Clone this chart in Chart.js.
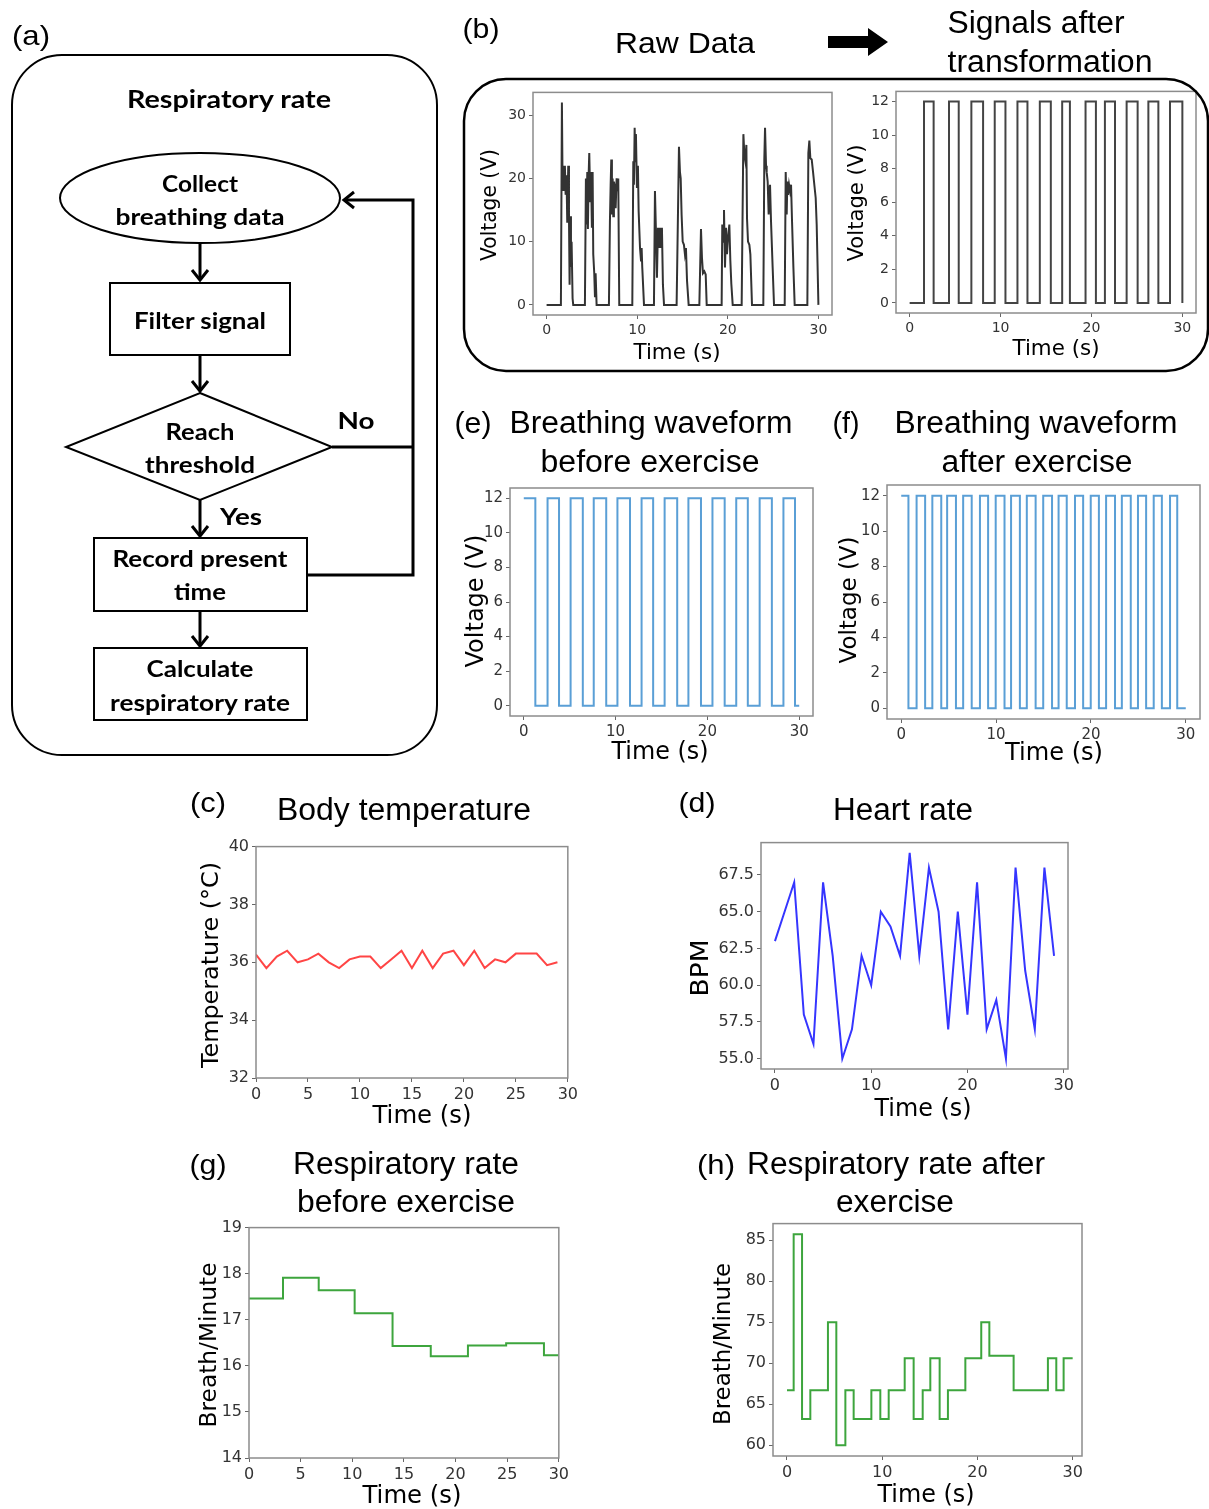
<!DOCTYPE html>
<html>
<head>
<meta charset="utf-8">
<script src="https://cdn.jsdelivr.net/npm/chart.js@4.4.0/dist/chart.umd.min.js"></script>
<style>
  body { margin: 0; background: #fff; }
  #page { position: relative; width: 1209px; height: 1509px; overflow: hidden; background: #fff; }
  #page canvas { position: absolute; }
  #overlay { position: absolute; left: 0; top: 0; pointer-events: none; }
</style>
</head>
<body>
<div id="page">
  <svg id="overlay" width="1209" height="1509" xmlns="http://www.w3.org/2000/svg">
    <!-- (a) flowchart -->
    <rect x="12" y="55" width="425" height="700" rx="50" fill="none" stroke="#000" stroke-width="2"/>
    <ellipse cx="200" cy="198" rx="140" ry="45" fill="none" stroke="#000" stroke-width="2"/>
    <rect x="110" y="283" width="180" height="72" fill="none" stroke="#000" stroke-width="2"/>
    <polygon points="200,393 332,447 200,500 66,447" fill="none" stroke="#000" stroke-width="2"/>
    <rect x="94" y="538" width="213" height="73" fill="none" stroke="#000" stroke-width="2"/>
    <rect x="94" y="648" width="213" height="72" fill="none" stroke="#000" stroke-width="2"/>
    <g stroke="#000" stroke-width="3" fill="none">
      <line x1="200" y1="243" x2="200" y2="280"/><polyline points="192,270 200,280 208,270"/>
      <line x1="200" y1="355" x2="200" y2="391"/><polyline points="192,381 200,391 208,381"/>
      <line x1="200" y1="500" x2="200" y2="536"/><polyline points="192,526 200,536 208,526"/>
      <line x1="200" y1="611" x2="200" y2="646"/><polyline points="192,636 200,646 208,636"/>
      <polyline points="332,447 413,447"/>
      <polyline points="307,575 413,575 413,200 344,200"/>
      <polyline points="354,192 344,200 354,208"/>
    </g>
    <!-- (b) frame and arrow -->
    <rect x="464" y="79" width="744" height="292" rx="42" fill="none" stroke="#000" stroke-width="2.5"/>
    <polygon points="828,36 868,36 868,28 888,42 868,56 868,48 828,48" fill="#000"/>
    <g id="labels"></g>
  </svg>
</div>
<script>
// ---- (b) raw breathing data, one line per breath ----
const rawTime = [0,
  1.58, 1.69, 1.77, 1.84, 1.91, 2.02, 2.10, 2.20, 2.28, 2.39, 2.47, 2.54, 2.61, 2.69, 2.76, 2.87, 2.94,
  4.23, 4.34, 4.42, 4.49, 4.56, 4.64, 4.71, 4.82, 4.90, 5.00, 5.08, 5.15, 5.26, 5.34, 5.41, 5.52,
  6.88, 6.99, 7.07, 7.14, 7.21, 7.29, 7.36, 7.43, 7.55, 7.62, 7.73, 7.84, 7.91, 8.02,
  9.46, 9.57, 9.64, 9.72, 9.79, 9.86, 9.97, 10.08, 10.16, 10.31, 10.42, 10.49, 10.56, 10.75,
  11.85, 11.96, 12.07, 12.18, 12.29, 12.40, 12.51, 12.62, 12.73, 12.84, 12.96,
  14.35, 14.61, 14.72, 14.80, 14.90, 15.02, 15.16, 15.27, 15.38, 15.50, 15.68,
  16.86, 17.04, 17.15, 17.26, 17.41, 17.56, 17.67,
  19.32, 19.39, 19.50, 19.58, 19.69, 19.80, 19.91, 20.02, 20.17, 20.28, 20.39, 20.54,
  21.53, 21.72, 21.83, 21.94, 22.05, 22.12, 22.23, 22.38, 22.49, 22.67,
  23.92, 24.03, 24.11, 24.22, 24.29, 24.40, 24.51, 24.59, 24.66, 24.77, 24.95, 25.10,
  26.28, 26.39, 26.50, 26.57, 26.65, 26.76, 26.87, 26.98, 27.09, 27.24, 27.38,
  28.78, 28.89, 29.00, 29.11, 29.26, 29.41, 29.55, 29.70, 29.81, 30.00];
const rawVolt = [0,
  0, 32, 18, 22, 18, 22, 17.4, 20.5, 13, 22, 14, 3.2, 14, 6, 10, 1, 0,
  0, 20, 12.7, 21, 12, 20.5, 24, 16.4, 21, 12.2, 21, 8, 5, 1.2, 5, 0,
  0, 13.2, 19, 23, 14.3, 20, 14, 19.5, 18.5, 15.3, 20, 18, 20, 0,
  0, 22.7, 19, 28, 22.7, 27, 18.5, 22, 14.8, 9, 7, 9, 5.9, 0,
  0, 18, 11.6, 4.3, 12.2, 9, 12.2, 9, 12.2, 3.2, 0,
  0, 25, 21, 20, 14.3, 10, 9.5, 8, 9, 3.8, 0,
  0, 12, 7.4, 5, 5.3, 4.8, 0,
  0, 12.7, 10, 15, 5.9, 12.2, 8, 10.6, 12.7, 7, 3.3, 0,
  0, 27, 23.7, 22.7, 25.3, 13.7, 10, 9.5, 8, 0,
  0, 23, 28, 22, 21, 19.5, 14.3, 18, 19, 13.2, 5.9, 0,
  0, 21, 14.3, 19.5, 17.4, 19, 18, 19, 13.2, 5.9, 0,
  0, 24, 26, 23.2, 23, 21, 19, 16.9, 12.7, 0];

// ---- square waves: times where the level toggles between 0 and 12 V ----
const transEdges = [1.58, 2.64, 4.33, 5.40, 6.79, 8.08, 9.36, 10.54, 11.86, 12.96, 14.32, 15.53,
  16.78, 17.63, 19.35, 20.49, 21.48, 22.59, 23.87, 25.08, 26.26, 27.36, 28.64, 30.0];
const beforeEdges = [1.26, 2.59, 3.84, 5.10, 6.43, 7.62, 8.98, 10.20, 11.57, 12.83, 14.09, 15.34,
  16.71, 17.93, 19.30, 20.55, 21.88, 23.14, 24.40, 25.69, 27.02, 28.28, 29.54];
const afterEdges = [0.76, 1.62, 2.52, 3.28, 4.22, 4.84, 5.77, 6.53, 7.43, 8.30, 9.16, 9.96, 10.89,
  11.58, 12.51, 13.24, 14.17, 14.97, 15.90, 16.59, 17.45, 18.32, 19.18, 19.98, 20.84, 21.60, 22.54,
  23.26, 24.20, 24.96, 25.82, 26.62, 27.48, 28.34, 29.10];
const highLevel = 12;

// ---- (c) body temperature, (d) heart rate ----
const seconds = [0, 1, 2, 3, 4, 5, 6, 7, 8, 9, 10, 11, 12, 13, 14, 15, 16, 17, 18, 19,
  20, 21, 22, 23, 24, 25, 26, 27, 28, 29];
const temperature = [36.27, 35.8, 36.2, 36.4, 36.0, 36.1, 36.3, 36.0, 35.8, 36.1, 36.2, 36.2, 35.8, 36.1, 36.4,
  35.8, 36.4, 35.8, 36.3, 36.4, 35.9, 36.4, 35.8, 36.1, 36.0, 36.3, 36.3, 36.3, 35.9, 36.0];
const heartRate = [63, 65, 67, 58, 56, 67, 62, 55, 57, 62, 60, 65, 64, 62, 69, 62, 68, 65, 57, 65,
  58, 67, 57, 59, 55, 68, 61, 57, 68, 62];

// ---- (g)/(h) respiratory rate steps: start time and value of each step ----
const rrBeforeTime = [0, 3.29, 6.75, 10.23, 13.9, 17.6, 21.2, 24.9, 28.56];
const rrBeforeRate = [17.46, 17.91, 17.64, 17.14, 16.43, 16.21, 16.44, 16.49, 16.23];
const rrAfterTime = [0, 0.7, 1.58, 2.45, 4.3, 5.18, 6.13, 7.0, 8.86, 9.8, 10.68, 12.36, 13.3, 14.25,
  15.05, 16.03, 16.9, 18.73, 20.4, 21.25, 23.8, 27.4, 28.28, 29.05];
const rrAfterRate = [66.7, 85.7, 63.2, 66.7, 75, 60, 66.7, 63.2, 66.7, 63.2, 66.7, 70.6, 63.2, 66.7,
  70.6, 63.2, 66.7, 70.6, 75, 70.9, 66.7, 70.6, 66.7, 70.6];
const endTime = 30;

// ---- tick labels ----
const ticks0to30by10 = [0, 10, 20, 30];
const ticks0to30by5 = [0, 5, 10, 15, 20, 25, 30];
const rawTicks = [0, 10, 20, 30];
const voltTicks = [0, 2, 4, 6, 8, 10, 12];
const tempTicks = [32, 34, 36, 38, 40];
const bpmTicks = [55, 57.5, 60, 62.5, 65, 67.5];
const rrBeforeTicks = [14, 15, 16, 17, 18, 19];
const rrAfterTicks = [60, 65, 70, 75, 80, 85];

function pairs(xs, ys) { return xs.map((x, i) => ({ x, y: ys[i] })); }

function squareWave(startLevel, edges, end) {
  let lvl = startLevel;
  const pts = [{ x: 0, y: lvl }];
  edges.forEach(e => {
    pts.push({ x: e, y: lvl });
    lvl = lvl ? 0 : highLevel;
    pts.push({ x: e, y: lvl });
  });
  pts.push({ x: end, y: lvl });
  return pts;
}

function steps(ts, vs, end) {
  const pts = [];
  ts.forEach((t, i) => {
    pts.push({ x: t, y: vs[i] });
    pts.push({ x: i + 1 < ts.length ? ts[i + 1] : end, y: vs[i] });
  });
  return pts;
}

const framePlugin = {
  id: 'frame',
  afterDraw(chart) {
    const a = chart.chartArea, ctx = chart.ctx;
    ctx.save();
    ctx.strokeStyle = '#8c8c8c';
    ctx.lineWidth = 1.5;
    ctx.strokeRect(a.left, a.top, a.right - a.left, a.bottom - a.top);
    ctx.restore();
  }
};

function axis(min, max, tickVals, fmt, isY, size) {
  return {
    type: 'linear', min, max,
    afterBuildTicks: s => { s.ticks = tickVals.map(v => ({ value: v })); },
    afterFit: s => { if (isY) s.width = 70; else s.height = 30; },
    grid: { display: true, drawOnChartArea: false, drawTicks: true, tickLength: 4, color: '#666' },
    border: { display: false },
    ticks: {
      autoSkip: false, maxRotation: 0, padding: 3, color: '#333',
      font: { family: 'DejaVu Sans', size: size || 14 },
      callback: v => fmt(v)
    }
  };
}
const plain = v => String(v);
const oneDec = v => v.toFixed(1);

function panel(frame, x, y, data, color) {
  const c = document.createElement('canvas');
  c.width = frame.r - frame.l + 80;
  c.height = frame.b - frame.t + 40;
  c.style.left = (frame.l - 70) + 'px';
  c.style.top = (frame.t - 10) + 'px';
  document.getElementById('page').insertBefore(c, document.getElementById('overlay'));
  new Chart(c, {
    type: 'line',
    data: { datasets: [{ data, borderColor: color, borderWidth: 2, pointRadius: 0, tension: 0, fill: false }] },
    options: {
      responsive: false, animation: false,
      layout: { padding: { left: 0, top: 10, right: 10, bottom: 0 } },
      plugins: { legend: { display: false }, tooltip: { enabled: false } },
      scales: { x, y }
    },
    plugins: [framePlugin]
  });
}

panel({ l: 533, t: 91, r: 832, b: 315 },
  axis(-1.5, 31.5, ticks0to30by10, plain, false), axis(-1.6, 33.6, rawTicks, plain, true),
  pairs(rawTime, rawVolt), '#333');
panel({ l: 896, t: 90, r: 1196, b: 313 },
  axis(-1.5, 31.5, ticks0to30by10, plain, false), axis(-0.6, 12.6, voltTicks, plain, true),
  squareWave(0, transEdges, endTime), '#444');
panel({ l: 510, t: 486, r: 813, b: 716 },
  axis(-1.5, 31.5, ticks0to30by10, plain, false, 15), axis(-0.6, 12.6, voltTicks, plain, true, 15),
  squareWave(highLevel, beforeEdges, endTime), '#5a9fd6');
panel({ l: 887, t: 483, r: 1200, b: 719 },
  axis(-1.5, 31.5, ticks0to30by10, plain, false, 15), axis(-0.6, 12.6, voltTicks, plain, true, 15),
  squareWave(highLevel, afterEdges, endTime), '#5a9fd6');
panel({ l: 256, t: 844, r: 571, b: 1078 },
  axis(0, 30, ticks0to30by5, plain, false, 16), axis(32, 40, tempTicks, plain, true, 16),
  pairs(seconds, temperature), '#ff4545');
panel({ l: 761, t: 840, r: 1068, b: 1069 },
  axis(-1.45, 30.45, ticks0to30by10, plain, false, 16), axis(54.3, 69.7, bpmTicks, oneDec, true, 16),
  pairs(seconds, heartRate), '#3535ff');
panel({ l: 249, t: 1225, r: 562, b: 1458 },
  axis(0, 30, ticks0to30by5, plain, false, 16), axis(14, 19, rrBeforeTicks, plain, true, 16),
  steps(rrBeforeTime, rrBeforeRate, endTime), '#3da53d');
panel({ l: 773, t: 1221, r: 1082, b: 1456 },
  axis(-1.47, 30.98, ticks0to30by10, plain, false, 16), axis(58.7, 87.0, rrAfterTicks, plain, true, 16),
  steps(rrAfterTime, rrAfterRate, endTime), '#3da53d');

// ---- texts: [text, centre x, centre y, width, size, family, weight, rotated] ----
const AR = 'Liberation Sans, Arial, sans-serif', DV = 'DejaVu Sans, sans-serif', LT = 'Lato, sans-serif';
const texts = [
  ['(a)', 31, 35, 38, 28, AR, 400, false],
  ['(b)', 481, 28, 37, 28, AR, 400, false],
  ['Raw Data', 685, 42, 140, 30, AR, 400, false],
  ['Signals after', 1036, 22, 177, 31, AR, 400, false],
  ['transformation', 1050, 61, 205, 31, AR, 400, false],
  ['(e)', 473, 422, 37, 30, AR, 400, false],
  ['Breathing waveform', 651, 422, 283, 31, AR, 400, false],
  ['before exercise', 650, 461, 219, 31, AR, 400, false],
  ['(f)', 846, 422, 27, 30, AR, 400, false],
  ['Breathing waveform', 1036, 422, 283, 31, AR, 400, false],
  ['after exercise', 1037, 461, 191, 31, AR, 400, false],
  ['(c)', 208, 802, 36, 28, AR, 400, false],
  ['Body temperature', 404, 809, 254, 31, AR, 400, false],
  ['(d)', 697, 802, 37, 28, AR, 400, false],
  ['Heart rate', 903, 809, 140, 31, AR, 400, false],
  ['(g)', 208, 1164, 37, 28, AR, 400, false],
  ['Respiratory rate', 406, 1163, 226, 31, AR, 400, false],
  ['before exercise', 406, 1201, 218, 31, AR, 400, false],
  ['(h)', 716, 1164, 38, 28, AR, 400, false],
  ['Respiratory rate after', 896, 1163, 298, 31, AR, 400, false],
  ['exercise', 895, 1201, 118, 31, AR, 400, false],
  ['Time (s)', 677, 352, 87, 21, DV, 400, false],
  ['Voltage (V)', 489, 205, 112, 21, DV, 400, true],
  ['Time (s)', 1056, 348, 87, 21, DV, 400, false],
  ['Voltage (V)', 856, 203, 117, 21, DV, 400, true],
  ['Time (s)', 660, 751, 97, 24, DV, 400, false],
  ['Voltage (V)', 475, 601, 133, 24, DV, 400, true],
  ['Time (s)', 1054, 752, 98, 24, DV, 400, false],
  ['Voltage (V)', 848, 600, 127, 23, DV, 400, true],
  ['Time (s)', 422, 1115, 99, 24, DV, 400, false],
  ['Temperature (°C)', 210, 965, 206, 23, DV, 400, true],
  ['Time (s)', 923, 1108, 97, 24, DV, 400, false],
  ['BPM', 700, 968, 57, 24, DV, 400, true],
  ['Time (s)', 412, 1495, 99, 24, DV, 400, false],
  ['Breath/Minute', 208, 1345, 165, 23, DV, 400, true],
  ['Time (s)', 926, 1494, 97, 24, DV, 400, false],
  ['Breath/Minute', 722, 1344, 162, 23, DV, 400, true],
  ['Respiratory rate', 229, 98, 204, 24, LT, 700, false],
  ['Collect', 200, 183, 76, 23, LT, 700, false],
  ['breathing data', 200, 216, 169, 23, LT, 700, false],
  ['Filter signal', 200, 320, 132, 23, LT, 700, false],
  ['Reach', 200, 431, 69, 23, LT, 700, false],
  ['threshold', 200, 464, 110, 23, LT, 700, false],
  ['No', 356, 420, 37, 23, LT, 700, false],
  ['Yes', 241, 516, 42, 23, LT, 700, false],
  ['Record present', 200, 558, 175, 23, LT, 700, false],
  ['time', 200, 591, 52, 23, LT, 700, false],
  ['Calculate', 200, 668, 107, 23, LT, 700, false],
  ['respiratory rate', 200, 702, 180, 23, LT, 700, false]
];
const g = document.getElementById('labels');
texts.forEach(([s, cx, cy, w, size, fam, wt, rot]) => {
  const t = document.createElementNS('http://www.w3.org/2000/svg', 'text');
  t.setAttribute('x', cx);
  t.setAttribute('y', cy);
  t.setAttribute('text-anchor', 'middle');
  t.setAttribute('dominant-baseline', 'central');
  t.setAttribute('textLength', w);
  t.setAttribute('lengthAdjust', 'spacingAndGlyphs');
  t.setAttribute('font-family', fam);
  t.setAttribute('font-size', size);
  t.setAttribute('font-weight', wt);
  t.setAttribute('fill', '#000');
  if (rot) t.setAttribute('transform', `rotate(-90 ${cx} ${cy})`);
  t.textContent = s;
  g.appendChild(t);
});
</script>
</body>
</html>
